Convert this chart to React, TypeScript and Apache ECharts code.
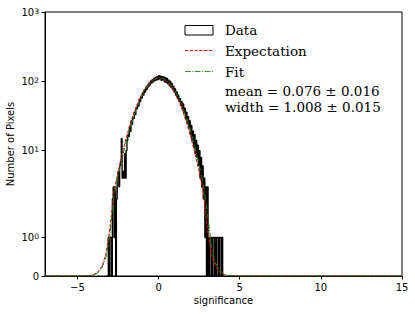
import React, { useEffect, useRef } from "react";
import * as echarts from "echarts";

// Histogram of data (bin counts), bins of width 0.05 starting at -3.2
const binStart = -3.2;
const binWidth = 0.05;
const counts = [
  0, 0, 1, 0, 1, 1, 0, 2, 3, 1, 3, 0, 2, 4, 5, 3, 6, 7, 15, 4,
  5, 4, 9, 4, 10, 14, 17, 16, 22, 19, 27, 24, 30, 29, 36, 33, 42, 40, 47, 44,
  55, 51, 60, 57, 68, 63, 75, 70, 82, 76, 88, 83, 95, 88, 101, 94, 106, 98, 111, 102,
  114, 104, 117, 106, 121, 108, 119, 103, 117, 105, 116, 98, 113, 96, 110, 92, 104, 86, 100, 82,
  93, 76, 85, 70, 78, 63, 70, 57, 63, 51, 56, 45, 51, 40, 47, 35, 41, 29, 36, 25,
  31, 21, 27, 17, 23, 14, 19, 11, 17, 9, 14, 8, 12, 6, 10, 4, 8, 3, 6, 2,
  4, 1, 3, 0, 3, 0, 1, 0, 0, 1, 0, 1, 1, 0, 1, 0, 1, 1, 0, 1,
  1, 0, 1, 0,
];

// Model curves
const curveX = [
  -7, -6, -5, -4.5, -4.25, -4, -3.75, -3.5, -3.25, -3, -2.75, -2.5, -2.25, -2, -1.75, -1.5,
  -1.25, -1, -0.75, -0.5, -0.25, 0, 0.25, 0.5, 0.75, 1, 1.25, 1.5, 1.75, 2, 2.25, 2.5,
  2.75, 3, 3.25, 3.5, 3.75, 4, 4.25, 4.5, 5, 6, 7, 8, 9, 10, 11, 12, 13, 14, 15,
];
const expectation = [
  0, 0, 0.0004, 0.0045, 0.0134, 0.0376, 0.099, 0.245, 0.57, 1.244, 2.55, 4.92, 8.91, 15.2, 24.2, 36.4,
  51.3, 67.9, 84.5, 98.8, 108.6, 112, 108.6, 98.8, 84.5, 67.9, 51.3, 36.4, 24.2, 15.2, 8.91, 4.92,
  2.55, 1.244, 0.57, 0.245, 0.099, 0.0376, 0.0134, 0.0045, 0.0004, 0, 0, 0, 0, 0, 0, 0, 0, 0, 0,
];
const fit = [
  0, 0, 0.0003, 0.00375, 0.0112, 0.0315, 0.0832, 0.207, 0.484, 1.064, 2.2, 4.27, 7.81, 13.43, 21.7, 33.0,
  47.2, 63.3, 80.1, 95.1, 106.3, 111.7, 110.3, 102.5, 89.6, 73.6, 56.9, 41.3, 28.2, 18.1, 10.9, 6.21,
  3.32, 1.67, 0.787, 0.35, 0.146, 0.0573, 0.0211, 0.00735, 0.0007, 0, 0, 0, 0, 0, 0, 0, 0, 0, 0,
];

const xTicks = [-5, 0, 5, 10, 15];
const yTickValues = [0, 1, 10, 100, 1000];
const yTickLabels = ["0", "10{s|0}", "10{s|1}", "10{s|2}", "10{s|3}"];

const legendLabels = ["Data", "Expectation", "Fit", "mean = 0.076 ± 0.016", "width = 1.008 ± 0.015"];

// symlog transform (linthresh = 2, linscale = 1, base 10)
const LINTHRESH = 2;
const LINSCALE_ADJ = 1 / (1 - 1 / 10);
function symlog(y: number): number {
  if (y <= LINTHRESH) return y * LINSCALE_ADJ;
  return LINTHRESH * (LINSCALE_ADJ + Math.log10(y / LINTHRESH));
}

export default function App() {
  const ref = useRef<HTMLDivElement>(null);
  useEffect(() => {
    if (!ref.current) return;
    const chart = echarts.init(ref.current, undefined, { renderer: "svg" });

    const histPts: number[][] = [[binStart, 0]];
    counts.forEach((c, i) => {
      const l = binStart + i * binWidth;
      const r = l + binWidth;
      histPts.push([l, symlog(c)], [r, symlog(c)]);
    });
    histPts.push([binStart + counts.length * binWidth, 0]);

    const expPts = curveX.map((x, i) => [x, symlog(expectation[i])]);
    const fitPts = curveX.map((x, i) => [x, symlog(fit[i])]);

    const yCustom = yTickValues.map(symlog);
    const yFmt = (v: number) => {
      for (let i = 0; i < yCustom.length; i++) {
        if (Math.abs(yCustom[i] - v) < 1e-6) return yTickLabels[i];
      }
      return "";
    };

    const serif = "DejaVu Serif";
    const sans = "DejaVu Sans";
    const lx0 = 185;
    const lx1 = 213;
    const tx = 225;
    const rows = [30, 50.5, 71.5, 91, 106.5];

    chart.setOption({
      animation: false,
      grid: {
        left: 45,
        right: 13,
        top: 12,
        bottom: 38,
        containLabel: false,
        outerBoundsMode: "none",
        show: true,
        borderColor: "#000",
        borderWidth: 1,
        backgroundColor: "transparent",
      },
      xAxis: {
        type: "value",
        min: -7,
        max: 15,
        name: "significance",
        nameLocation: "middle",
        nameGap: 19,
        nameMoveOverlap: false,
        nameTextStyle: { fontFamily: sans, fontSize: 10, color: "#000" },
        axisLine: { show: true, onZero: false, lineStyle: { color: "#000", width: 1 } },
        axisTick: { show: true, length: 3.5, customValues: xTicks, lineStyle: { color: "#000" } },
        axisLabel: {
          customValues: xTicks,
          fontFamily: sans,
          fontSize: 10,
          color: "#000",
          margin: 6,
          formatter: (v: number) => (v < 0 ? "\u2212" + Math.abs(v) : String(v)),
        },
        splitLine: { show: false },
      },
      yAxis: {
        type: "value",
        min: 0,
        max: symlog(1000),
        name: "Number of Pixels",
        nameLocation: "middle",
        nameGap: 30,
        nameMoveOverlap: false,
        nameTextStyle: { fontFamily: sans, fontSize: 10, color: "#000" },
        axisLine: { show: true, onZero: false, lineStyle: { color: "#000", width: 1 } },
        axisTick: { show: true, length: 3.5, customValues: yCustom, lineStyle: { color: "#000" } },
        axisLabel: {
          customValues: yCustom,
          fontFamily: sans,
          fontSize: 10,
          color: "#000",
          margin: 6,
          formatter: yFmt,
          rich: {
            s: { fontFamily: sans, fontSize: 7.5, color: "#000", verticalAlign: "top", lineHeight: 8 },
          },
        },
        splitLine: { show: false },
      },
      series: [
        {
          type: "line",
          name: "Data",
          data: histPts,
          showSymbol: false,
          symbol: "none",
          lineStyle: { color: "#000", width: 1.3 },
          silent: true,
          z: 2,
        },
        {
          type: "line",
          name: "Expectation",
          data: expPts,
          showSymbol: false,
          symbol: "none",
          lineStyle: { color: "#ff0000", width: 1, type: [3.3, 1.5] },
          silent: true,
          z: 3,
        },
        {
          type: "line",
          name: "Fit",
          data: fitPts,
          showSymbol: false,
          symbol: "none",
          lineStyle: { color: "#008000", width: 1, type: [5.8, 1.5, 1, 1.5] },
          silent: true,
          z: 4,
        },
      ],
      graphic: [
        {
          type: "rect",
          shape: { x: lx0, y: 25.5, width: lx1 - lx0, height: 9.5 },
          style: { fill: "#fff", stroke: "#000", lineWidth: 1 },
          z: 10,
        },
        {
          type: "line",
          shape: { x1: lx0, y1: rows[1], x2: lx1, y2: rows[1] },
          style: { stroke: "#ff0000", lineWidth: 1, lineDash: [3.3, 1.5] },
          z: 10,
        },
        {
          type: "line",
          shape: { x1: lx0, y1: rows[2], x2: lx1, y2: rows[2] },
          style: { stroke: "#1f9a1f", lineWidth: 1.2, lineDash: [5.8, 1.5, 1, 1.5] },
          z: 10,
        },
        ...legendLabels.map((t, i) => ({
          type: "text",
          x: tx,
          y: rows[i],
          style: {
            text: t,
            fontFamily: serif,
            fontSize: 13.5,
            fill: "#000",
            verticalAlign: "middle",
            align: "left",
          },
          z: 10,
        })),
      ],
    });
    return () => chart.dispose();
  }, []);
  return (
    <div
      ref={ref}
      style={{ position: "absolute", left: 0, top: 0, width: 415, height: 314 }}
    />
  );
}
